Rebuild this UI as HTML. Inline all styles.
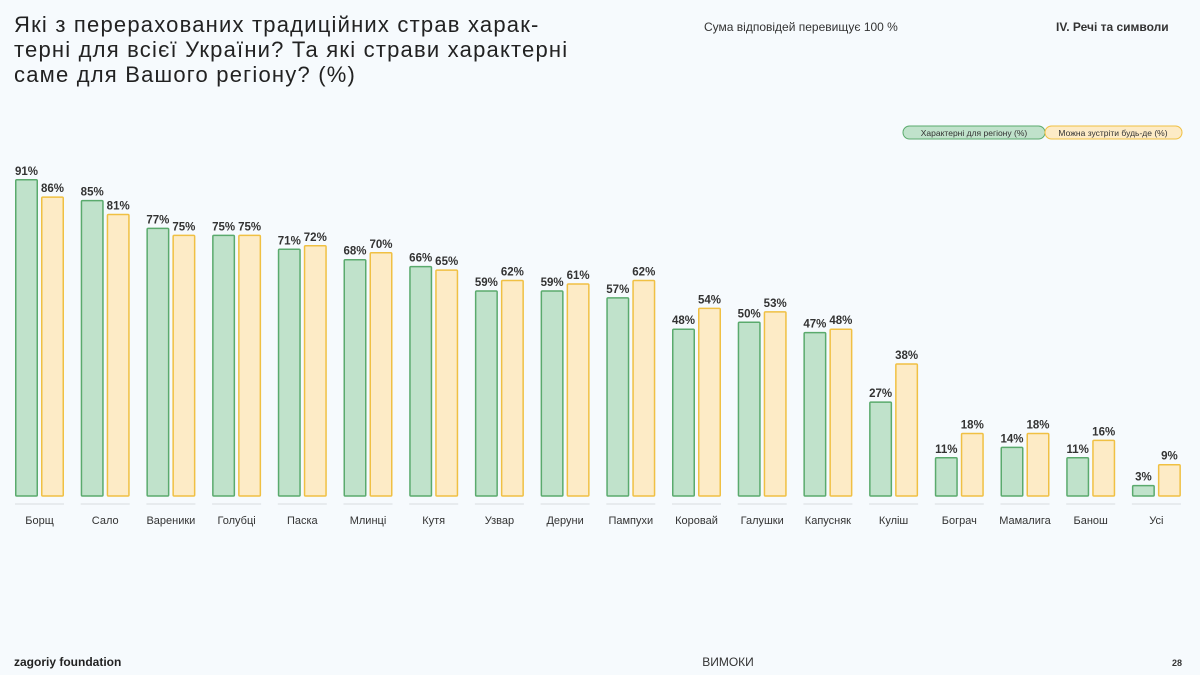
<!DOCTYPE html>
<html><head><meta charset="utf-8"><style>
body{margin:0;width:1200px;height:675px;background:#f6fafd;font-family:"Liberation Sans",sans-serif;overflow:hidden;position:relative;color:#2a2a2a}
.t{position:absolute;left:14px;top:12px;font-size:22px;line-height:25px;letter-spacing:1.2px;color:#222}
.n{position:absolute;left:704px;top:20px;font-size:12px;color:#333}
.s{position:absolute;left:1056px;top:20px;font-size:12px;font-weight:bold;color:#333}
</style></head><body>
<div class="t">Які з перерахованих традиційних страв харак-<br>терні для всієї України? Та які страви характерні<br>саме для Вашого регіону? (%)</div>
<div class="n">Сума відповідей перевищує 100 %</div>
<div class="s">IV. Речі та символи</div>
<svg width="1200" height="675" style="position:absolute;left:0;top:0" font-family="Liberation Sans, sans-serif">
<rect x="903" y="126" width="142" height="13" rx="6.5" fill="#c0e2cb" stroke="#5aaa6d"/>
<text x="974" y="136" font-size="8.5" text-anchor="middle" fill="#333">Характерні для регіону (%)</text>
<rect x="1045" y="126" width="137" height="13" rx="6.5" fill="#fdebc6" stroke="#f0c043"/>
<text x="1113" y="136" font-size="8.5" text-anchor="middle" fill="#333">Можна зустріти будь-де (%)</text>
<g id="bars"></g>
<text x="14" y="666" font-size="12" font-weight="bold" fill="#222">zagoriy foundation</text>
<text x="728" y="666" font-size="12" text-anchor="middle" fill="#333">ВИМОКИ</text>
<text x="1182" y="666" font-size="9" font-weight="bold" text-anchor="end" fill="#333">28</text>
</svg>
<script>
var d=[["Борщ",91,86],["Сало",85,81],["Вареники",77,75],["Голубці",75,75],["Паска",71,72],["Млинці",68,70],["Кутя",66,65],["Узвар",59,62],["Деруни",59,61],["Пампухи",57,62],["Коровай",48,54],["Галушки",50,53],["Капусняк",47,48],["Куліш",27,38],["Бограч",11,18],["Мамалига",14,18],["Банош",11,16],["Усі",3,9]];
var g=document.getElementById('bars'),h='',B=496,k=3.475;
d.forEach(function(r,i){var x=15+i*65.7;
[[r[1],x,'#c0e2cb','#5aaa6d'],[r[2],x+26,'#fdebc6','#f0c043']].forEach(function(b){var hh=b[0]*k;
h+='<rect x="'+(b[1]+0.75)+'" y="'+(B-hh)+'" width="21.5" height="'+hh+'" rx="1" fill="'+b[2]+'" stroke="'+b[3]+'" stroke-width="1.5"/>';
h+='<text x="'+(b[1]+11.5)+'" y="'+(B-hh-5)+'" font-size="11.5" font-weight="bold" text-anchor="middle" fill="#333">'+b[0]+'%</text>';});
h+='<line x1="'+x+'" x2="'+(x+49)+'" y1="504" y2="504" stroke="#d8dcdf"/>';
h+='<text x="'+(x+24.5)+'" y="524" font-size="11" text-anchor="middle" fill="#333">'+r[0]+'</text>';});
g.innerHTML=h;
</script>
</body></html>
